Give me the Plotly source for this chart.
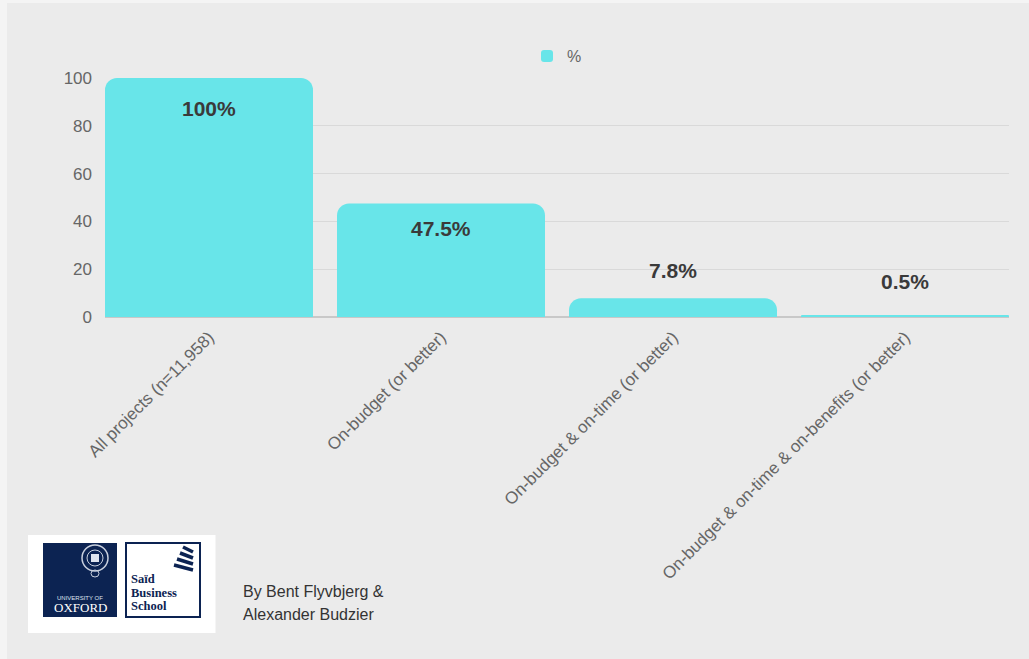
import plotly.graph_objects as go

# ---- data ----
categories = [
    "All projects (n=11,958)",
    "On-budget (or better)",
    "On-budget & on-time (or better)",
    "On-budget & on-time & on-benefits (or better)",
]
percent_values = [100, 47.5, 7.8, 0.5]
series_name = "%"
y_ticks = [0, 20, 40, 60, 80, 100]
credit_lines = ["By Bent Flyvbjerg &", "Alexander Budzier"]

# ---- styles ----
W, H = 1029, 659
L, R, T, B = 105, 1009, 78, 317  # plot area in pixels
BAR = "#68e5e9"
NAVY = "#0c2352"
FONT = "Liberation Sans, Arial, Helvetica, sans-serif"
SERIF = "Liberation Serif, Times New Roman, serif"
label_offsets = [-30, -25, 28, 34]  # px shift of value labels from bar tops


def px(x):
    return (x - L) / (R - L)


def py(y):
    return (B - y) / (B - T)


fig = go.Figure()
fig.add_trace(go.Bar(
    x=categories,
    y=percent_values,
    name=series_name,
    marker=dict(color=BAR, line=dict(width=0)),
    showlegend=True,
    hoverinfo="skip",
))

annotations = []
for c, v, off in zip(categories, percent_values, label_offsets):
    annotations.append(dict(
        x=c, y=v, xref="x", yref="y", text=f"{v:g}%", showarrow=False,
        yshift=off, yanchor="middle",
        font=dict(family=FONT, size=21, color="#3a3a3a", weight="bold"),
    ))

# credit text
for i, line in enumerate(credit_lines):
    annotations.append(dict(
        x=px(241), y=py(591 + 23 * i), xref="paper", yref="paper", text=line,
        showarrow=False, xanchor="left", yanchor="middle",
        font=dict(family=FONT, size=16, color="#333333"),
    ))

# logo texts
annotations += [
    dict(x=px(80), y=py(598), xref="paper", yref="paper", text="UNIVERSITY OF",
         showarrow=False, xanchor="center", yanchor="middle",
         font=dict(family=FONT, size=6, color="#dfe4ee")),
    dict(x=px(80), y=py(607.5), xref="paper", yref="paper", text="OXFORD",
         showarrow=False, xanchor="center", yanchor="middle",
         font=dict(family=SERIF, size=13, color="#ffffff")),
]
for i, w in enumerate(["Saïd", "Business", "School"]):
    annotations.append(dict(
        x=px(129), y=py(579 + 13.5 * i), xref="paper", yref="paper", text=w,
        showarrow=False, xanchor="left", yanchor="middle",
        font=dict(family=SERIF, size=12.5, color=NAVY, weight="bold"),
    ))

shapes = [
    # grey panel with light outer margin
    dict(type="rect", xref="paper", yref="paper", x0=px(7), x1=px(W + 5),
         y0=py(H + 5), y1=py(3), fillcolor="#ebebeb", line=dict(width=0),
         layer="below"),
    # logo white box
    dict(type="rect", xref="paper", yref="paper", x0=px(28), x1=px(215.5),
         y0=py(633), y1=py(535), fillcolor="#ffffff", line=dict(width=0)),
    # oxford navy box
    dict(type="rect", xref="paper", yref="paper", x0=px(43), x1=px(117),
         y0=py(617), y1=py(543), fillcolor=NAVY, line=dict(width=0)),
    # crest
    dict(type="circle", xref="paper", yref="paper", x0=px(82), x1=px(108),
         y0=py(571), y1=py(545), line=dict(color="#c9d0de", width=1.5)),
    dict(type="circle", xref="paper", yref="paper", x0=px(87), x1=px(103),
         y0=py(566), y1=py(550), line=dict(color="#c9d0de", width=1)),
    dict(type="rect", xref="paper", yref="paper", x0=px(91), x1=px(99),
         y0=py(562), y1=py(554), fillcolor="#dfe4ee", line=dict(width=0)),
    dict(type="circle", xref="paper", yref="paper", x0=px(91), x1=px(99),
         y0=py(577), y1=py(570), line=dict(color="#c9d0de", width=1)),
    # said box
    dict(type="rect", xref="paper", yref="paper", x0=px(126), x1=px(200),
         y0=py(617), y1=py(543), fillcolor="#ffffff",
         line=dict(color=NAVY, width=2)),
]
# said stripes
for i in range(4):
    xl = 183 - 3 * i
    yl = 547 + 6 * i
    shapes.append(dict(type="line", xref="paper", yref="paper",
                       x0=px(xl), y0=py(yl), x1=px(193), y1=py(yl + 5),
                       line=dict(color=NAVY, width=3.5)))

pitch_gap = 24 / 232
fig.update_layout(
    width=W, height=H,
    margin=dict(l=L, r=W - R, t=T, b=H - B, pad=0),
    paper_bgcolor="#f4f4f4",
    plot_bgcolor="rgba(0,0,0,0)",
    font=dict(family=FONT, color="#666666"),
    bargap=pitch_gap,
    barcornerradius=12,
    showlegend=True,
    legend=dict(
        orientation="h", x=0.5, xanchor="center", y=py(56), yanchor="middle",
        font=dict(family=FONT, size=16, color="#666666"),
        bgcolor="rgba(0,0,0,0)",
    ),
    xaxis=dict(
        range=[-0.5 + pitch_gap / 2, 3.5 - pitch_gap / 2],
        tickangle=-45, tickfont=dict(family=FONT, size=17, color="#666666"),
        showgrid=False, showline=False, ticks="", zeroline=False,
        ticklabelstandoff=6, fixedrange=True,
    ),
    yaxis=dict(
        range=[0, 100], tickvals=y_ticks,
        tickfont=dict(family=FONT, size=17, color="#666666"),
        showgrid=True, gridcolor="#d9d9d9", gridwidth=1,
        zeroline=True, zerolinecolor="#c8c8c8", zerolinewidth=1.5,
        ticks="", ticklabelstandoff=12, showline=False, fixedrange=True,
    ),
    annotations=annotations,
    shapes=shapes,
    hovermode=False,
)

fig.write_html("out.html", config={"displayModeBar": False})
